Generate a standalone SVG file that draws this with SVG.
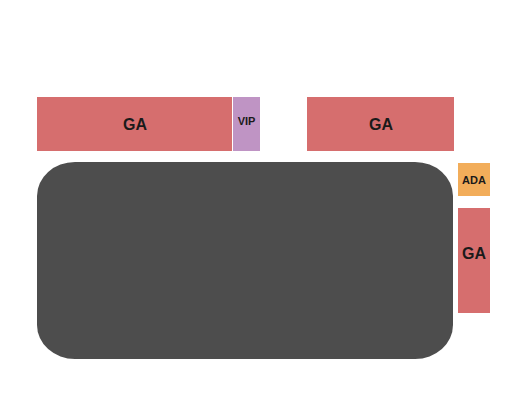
<svg xmlns="http://www.w3.org/2000/svg" width="525" height="400" viewBox="0 0 525 400">
<style>
.ga{fill:#d66e6e}
.vip{fill:#bf94c4}
.ada{fill:#f2ad5a}
.stage{fill:#4d4d4d}
text{font-family:"Liberation Sans",Arial,sans-serif;font-weight:bold;fill:#1a1a1a;text-anchor:middle;dominant-baseline:central}
.big{font-size:16px}
.small{font-size:11px}
</style>
<rect width="525" height="400" fill="#ffffff"/>
<g id="stage"><rect class="stage" x="37" y="162" width="416" height="197" rx="38" ry="34"/></g>
<g id="ga-left"><rect class="ga" x="37" y="97" width="195" height="54"/><text class="big" x="135" y="124">GA</text></g>
<g id="vip"><rect class="vip" x="233" y="97" width="27" height="54"/><text class="small" x="246.5" y="121">VIP</text></g>
<g id="ga-top-right"><rect class="ga" x="307" y="97" width="147" height="54"/><text class="big" x="381" y="124">GA</text></g>
<g id="ada"><rect class="ada" x="458" y="163" width="32" height="33"/><text class="small" x="474" y="179.5">ADA</text></g>
<g id="ga-right"><rect class="ga" x="458" y="208" width="32" height="105"/><text class="big" x="474" y="253">GA</text></g>
<g id="connectors"/>
</svg>
